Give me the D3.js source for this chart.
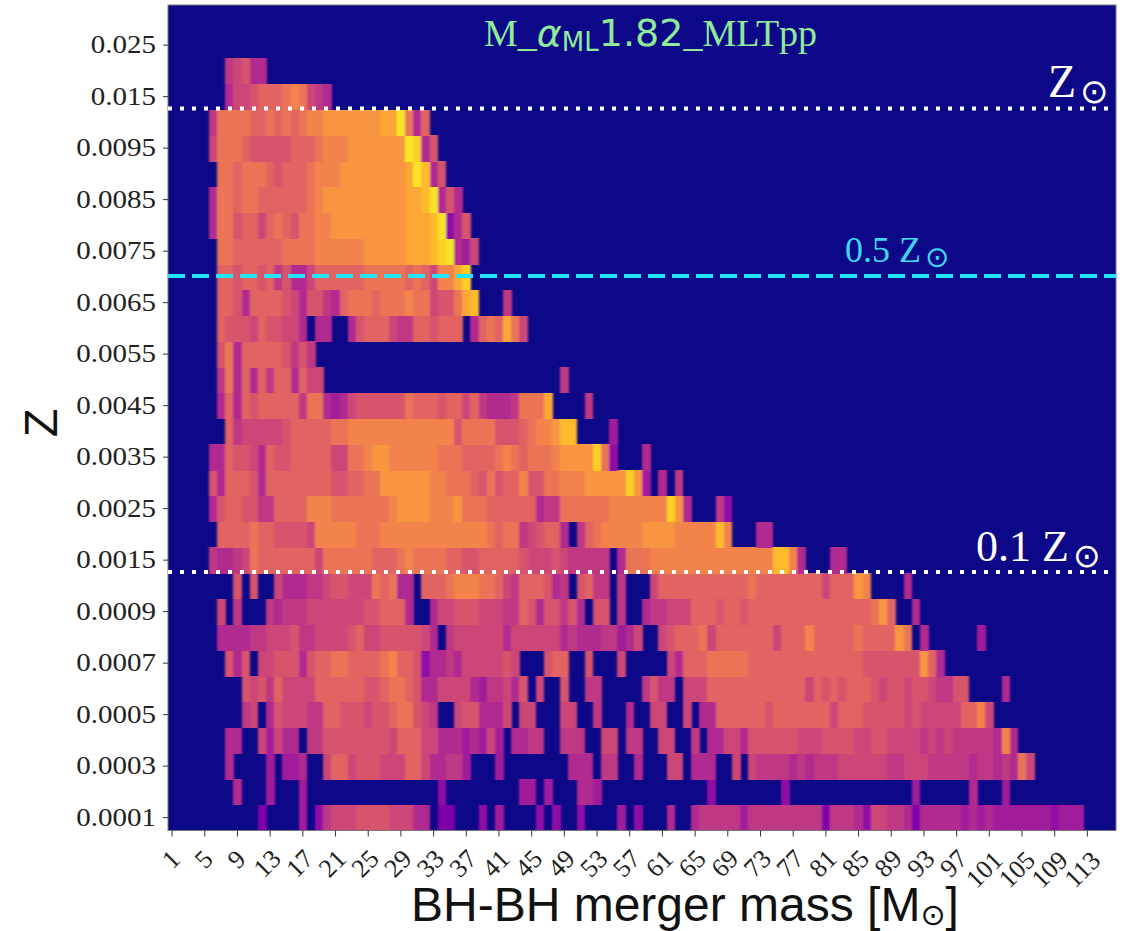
<!DOCTYPE html>
<html><head><meta charset="utf-8">
<script src="https://cdn.jsdelivr.net/npm/d3@7"></script>
<style>html,body{margin:0;padding:0;background:#fff}svg{display:block}</style>
</head><body><svg id="chart" width="1130" height="931"></svg>
<script>
// Bin labels
const massBins = d3.range(1, 117);
const massTicks = d3.range(1, 114, 4);
const metallicity = ["0.0001","0.0002","0.0003","0.0004","0.0005","0.0006","0.0007","0.0008","0.0009","0.001","0.0015","0.002","0.0025","0.003","0.0035","0.004","0.0045","0.005","0.0055","0.006","0.0065","0.007","0.0075","0.008","0.0085","0.009","0.0095","0.01","0.015","0.02","0.025","0.03"];
const metalTicks = ["0.0001","0.0003","0.0005","0.0007","0.0009","0.0015","0.0025","0.0035","0.0045","0.0055","0.0065","0.0075","0.0085","0.0095","0.015","0.025"];
const refLines = [
  {z:"0.01", offset:0, cls:"solar"}, {z:"0.007", offset:.5, cls:"half"}, {z:"0.0015", offset:1, cls:"tenth"}
];
// Colour level per bin (base-21 digit), listed as [first bin index, levels] for each Z row
const z0001=[[11,"5"],[16,"7"],[18,"6"],[19,"9aaabbbbaaa88"],[33,"55"],[38,"6"],[40,"7"],[45,"6"],[47,"6"],[50,"6"],[55,"7"],[57,"6"],[61,"8"],[64,"899999"+"7"+"999999999"+"5"+"9998"+"6"+"aa"+"998"+"5"+"88888"+"7878"+"7777777"+"6"+"777"]];
const z0002=[[8,"8"],[12,"7"],[16,"7"],[33,"6"],[43,"77"],[46,"7"],[50,"887"],[66,"6"],[75,"6"],[91,"7"],[98,"8"],[102,"7"]];
const z0003=[[7,"8"],[12,"7"],[14,"778"],[19,"accabbbaaacca8899"+"7"],[40,"7"],[49,"888"],[53,"99"],[57,"8"],[61,"aa"],[64,"888"],[69,"a"],[71,"a99998989"+"99aaaaaa99aaa9999989989"+"8da"]];
const z0004=[[7,"88"],[11,"a7a88"],[17,"99bbbbbbbbaccc"+"aa88878"+"7a7"],[42,"8899"],[48,"999"],[53,"aa"],[56,"99"],[60,"aa"],[64,"9"],[66,"88aa8bbbbbbaaabbbbaabbaaaa9a9a999998e8"]];
const z0005=[[9,"9a"],[12,"8baaa99ccbbbabbcddba9"],[35,"abb888a"],[43,"aa"],[48,"aa"],[52,"9"],[56,"8"],[59,"aa"],[63,"a"],[65,"88ccccccbcccccccacccbbbbbabaaaaaccea"]];
const z0006=[[9,"bab9caaaaccccccbbcddcb88aaaa8799a8b"],[45,"a"],[48,"b"],[51,"99"],[58,"9b99"],[63,"aaaccccccccccccacbcbcccbabbabba99bb"],[102,"8"]];
const z0007=[[7,"b8b"],[11,"aabbb8bccddccccdeccb6889"+"8aaaaaba"],[46,"bcc"],[51,"b"],[55,"a"],[61,"a8cccdddddcccccccccccccc"+"bbbbbbbfc8"]];
const z0008=[[6,"888899aaab99aaaabcaabbbbba8"],[34,"9aaaaaa8aaaaaa898889978a"],[60,"abcccdacccccccaccceccccc"+"dccccfd"],[92,"8"],[99,"7"]];
const z0009=[[6,"a"],[8,"9"],[12,"98999aaaaaaabbccc8"],[32,"8aabbbaaa99cb8bb9b8"],[52,"bb"],[55,"9"],[58,"899aaacccbccbccccccccccccccc"+"dfc"],[91,"8"]];
const z0010=[[8,"b"],[10,"b"],[13,"a88899abbaaadcd88"],[31,"cccdeeeddca9cccb89"],[50,"bc99"],[55,"9"],[59,"acccccccccccdccccccccacccfe"],[90,"8"]];
const z0015=[[5,"9889adccccccca"+"ddddddcccdeddddccbbcccccbaaaba99999"],[55,"8ddd"+"eeeeeeeeeeeeeee"+"hhe8"],[81,"88"]];
const z0020=[[6,"ccccdccbbbbaeeeeedddeeeeeeeeeeeeedcdd9abcc8"],[50,"9cdeeeeeffffeeeeehe"],[72,"88"]];
const z0025=[[5,"8bccbb99cccceeedddddddeffffeeefdddcccccc899ddddddeeeeeeeif8"],[67,"96"]];
const z0030=[[5,"b8cccb8ccccccccbbccddffffffeedddcbdbccebbddeeefffffif7"],[60,"8"],[62,"9"]];
const z0035=[[5,"88cbba8cbbcccccaaddeffeeeeeedddccccdedcdddeffffid6"],[58,"8"]];
const z0040=[[7,"c9aaaaabcccccddeeeeeeeeeeeeebddddbbbcdeefhh"],[54,"7"]];
const z0045=[[6,"8c8cbccccc9dd878abbbbbbdcccbccac98889dddg"],[51,"9"]];
const z0050=[[6,"9d8c8c9cc8caa"],[48,"9"]];
const z0055=[[6,"bd8cccccb9b9"]];
const z0060=[[6,"cbbbacbbaa8"],[18,"88"],[22,"8bccca99ccbccc"],[37,"8cdcgda"]];
const z0065=[[6,"ccb8ccccba8bb98cdddcdddeddabbdgh"],[41,"9"]];
const z0070=[[6,"ccbccbc9b88accccccdddddcdcaeegi"]];
const z0075=[[6,"ddccccccddddeeeeeefffffggghij87a"]];
const z0080=[[5,"8ddbccacdcbddeefffffffffggghj68b"]];
const z0085=[[5,"8ddcddccccccdeffffffffffgghj8b8"]];
const z0090=[[6,"ddcdddcbcccdeeeffffffffgjh8b"]];
const z0095=[[5,"adddcbbbbbcccdeeefffffffji8b"]];
const z0100=[[5,"9ddddccdcdcdeefffffffggjd8c"]];
const z0150=[[7,"8aabcccdeda98"]];
const z0200=[[7,"9ab88"]];
const z0250=[];
const z0300=[];
const rowsByZ=[z0001,z0002,z0003,z0004,z0005,z0006,z0007,z0008,z0009,z0010,z0015,z0020,z0025,z0030,z0035,z0040,z0045,z0050,z0055,z0060,z0065,z0070,z0075,z0080,z0085,z0090,z0095,z0100,z0150,z0200,z0250,z0300];

const svg=d3.select("#chart");
const M={l:168,r:1116,t:5,b:830.5};
const x=d3.scaleBand().domain(massBins).range([M.l,M.r]).paddingInner(0).paddingOuter(0);
const y=d3.scaleBand().domain(metallicity).range([M.b,M.t+1.5]).paddingInner(0).paddingOuter(0);
const color=d3.scaleSequential(d3.interpolatePlasma).domain([0,20]);

const cells=[];
rowsByZ.forEach((segs,r)=>segs.forEach(([start,levels])=>{
  [...levels].forEach((ch,k)=>cells.push({z:metallicity[r],m:massBins[start+k],v:parseInt(ch,21)}));
}));

const defs=svg.append("defs");
defs.append("filter").attr("id","soft").attr("x","-1%").attr("y","-1%").attr("width","102%").attr("height","102%")
  .append("feGaussianBlur").attr("stdDeviation","0.9 0.6");
defs.append("clipPath").attr("id","plot").append("rect").attr("x",M.l).attr("y",M.t).attr("width",M.r-M.l).attr("height",M.b-M.t);

svg.append("rect").attr("x",M.l).attr("y",M.t).attr("width",M.r-M.l).attr("height",M.b-M.t).attr("fill",color(0));
svg.append("g").attr("clip-path","url(#plot)").append("g").attr("filter","url(#soft)")
  .selectAll("rect").data(cells).join("rect")
  .attr("x",d=>x(d.m)).attr("y",d=>y(d.z)).attr("width",x.bandwidth()+.5).attr("height",y.bandwidth()+.5)
  .attr("shape-rendering","crispEdges").attr("fill",d=>color(d.v));
svg.append("rect").attr("x",M.l).attr("y",M.t).attr("width",M.r-M.l).attr("height",M.b-M.t)
  .attr("fill","none").attr("stroke","#777").attr("stroke-width",1);

const serif="'Liberation Serif',serif", sans="'Liberation Sans',Arial,sans-serif", dj="'DejaVu Sans',sans-serif";

// Axes
const gy=svg.append("g").attr("transform",`translate(${M.l},0)`)
  .call(d3.axisLeft(y).tickValues(metalTicks).tickSize(5).tickPadding(7));
gy.select(".domain").remove();
gy.selectAll("line").attr("stroke","#333");
gy.selectAll("text").attr("font-family",serif).attr("font-size",26).attr("fill","#222")
  .attr("textLength",d=>(d.length-2)*25*.5*1.16+25*.75*1.16).attr("lengthAdjust","spacingAndGlyphs");

const gx=svg.append("g").attr("transform",`translate(0,${M.b})`)
  .call(d3.axisBottom(x).tickValues(massTicks).tickSize(6).tickPadding(6));
gx.select(".domain").remove();
gx.selectAll("line").attr("stroke","#333");
gx.selectAll("text").attr("font-family",serif).attr("font-size",26).attr("fill","#222")
  .attr("text-anchor","middle").attr("dy",null).attr("dominant-baseline","central")
  .attr("y",0).attr("transform",d=>d<10?"translate(-1,29) rotate(-45)":d<100?"translate(-3,33) rotate(-45)":"translate(-5,39) rotate(-45)");

// Reference lines
const lineY=r=>y(r.z)+y.bandwidth()*(r.offset);
const styles={solar:{c:"#fff",d:"4 8",w:4},half:{c:"#22e6f5",d:"17 7",w:4},tenth:{c:"#fff",d:"4 8",w:4}};
svg.append("g").selectAll("line").data(refLines).join("line")
  .attr("x1",M.l).attr("x2",M.r).attr("y1",d=>lineY(d)-1).attr("y2",d=>lineY(d)-1)
  .attr("stroke",d=>styles[d.cls].c).attr("stroke-dasharray",d=>styles[d.cls].d).attr("stroke-width",d=>styles[d.cls].w);

// Annotations
const t=svg.append("text").attr("x",484).attr("y",46).attr("fill","#8fea9a").attr("font-size",38).attr("font-family",serif);
t.append("tspan").text("M_");
t.append("tspan").attr("font-family",dj).attr("font-style","italic").text("α");
t.append("tspan").attr("font-family",dj).attr("font-size",26).attr("dy",5).text("ML");
t.append("tspan").attr("font-family",dj).attr("dy",-5).text("1.82");
t.append("tspan").text("_MLTpp");

function zLabel(px,py,pre,size,fill,sub){
  const g=svg.append("text").attr("x",px).attr("y",py).attr("fill",fill).attr("font-size",size).attr("font-family",serif);
  g.append("tspan").text(pre+"Z");
  g.append("tspan").attr("font-family",dj).attr("font-size",sub).attr("dx",4).attr("dy",size*.14).text("⊙");
}
zLabel(1048,97,"",46,"#fff",34);
zLabel(845,262,"0.5 ",36,"#3fd8f2",29);
zLabel(976,561,"0.1 ",44,"#fff",33);

// Axis titles
svg.append("text").attr("transform","translate(57,423) rotate(-90)").attr("text-anchor","middle")
  .attr("font-family",sans).attr("font-size",47).attr("fill","#111").text("Z");
const xl=svg.append("text").attr("x",411).attr("y",921).attr("font-family",sans).attr("font-size",48).attr("fill","#111");
xl.append("tspan").text("BH-BH merger mass [M");
xl.append("tspan").attr("font-family",dj).attr("font-size",30).attr("dy",4).text("⊙");
xl.append("tspan").attr("dy",-4).text("]");
</script></body></html>
